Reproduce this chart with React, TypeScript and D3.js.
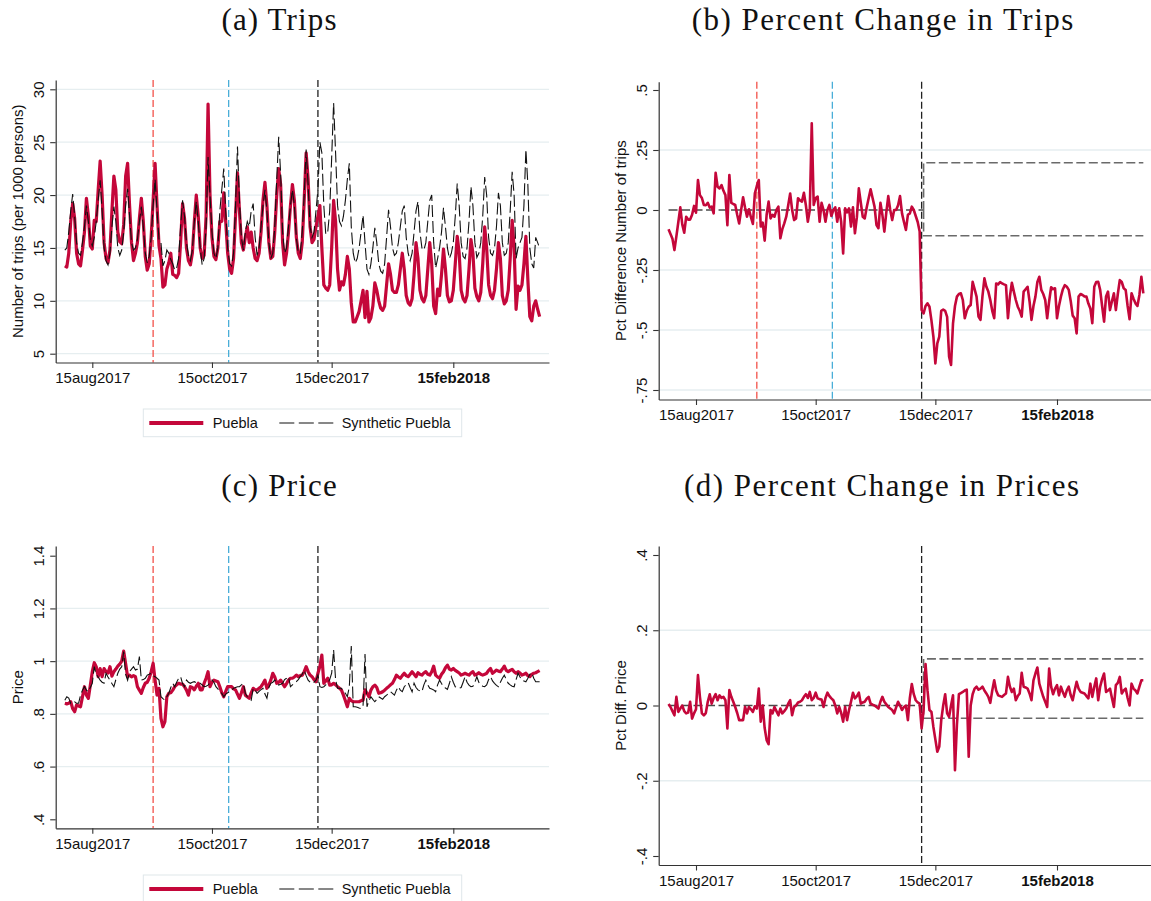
import React, { useEffect, useRef } from "react";
import * as d3 from "d3";

// daily series, 01aug2017 .. 31mar2018
const tripsPuebla = [
  13.3, 13.2, 14.5, 17.5, 19.2, 17.8, 14.5, 13.5, 13.3, 14.8,
  16.5, 19.7, 18.0, 15.2, 14.9, 17.6, 17.5, 20.5, 23.2, 20.0,
  15.5, 14.0, 13.6, 14.8, 18.5, 21.8, 20.5, 16.5, 15.6, 15.4,
  17.2, 21.8, 23.0, 19.0, 15.5, 13.8, 14.5, 15.5, 17.8, 19.7,
  17.5, 14.2, 12.9, 13.5, 16.0, 19.5, 23.0, 19.0, 15.2, 14.0,
  11.3, 11.5, 13.0, 13.6, 14.5, 12.5, 12.4, 12.2, 12.6, 15.5,
  19.2, 17.8, 15.0, 13.8, 13.4, 14.5, 17.5, 20.0, 18.0, 15.0,
  14.0, 14.3, 18.0, 28.6, 20.0, 16.0, 14.2, 13.9, 15.0, 17.5,
  17.5, 20.2, 17.5, 14.5, 13.0, 12.6, 14.0, 18.0, 22.1, 18.5,
  15.5, 14.8, 16.0, 17.0, 15.5, 16.5, 15.0, 14.0, 13.8, 14.5,
  16.5, 19.5, 21.2, 19.0, 15.5, 14.0, 14.2, 16.5, 20.0, 22.5,
  21.0, 15.5, 13.4, 14.5, 16.5, 19.0, 21.0, 19.5, 16.0, 14.5,
  14.0, 15.5, 19.5, 24.0, 21.5, 17.0, 15.5, 15.8, 17.0, 18.0,
  19.0, 15.0, 11.5, 11.2, 11.0, 11.5, 15.0, 19.5, 17.5, 13.0,
  11.0, 11.8, 11.5, 12.5, 14.2, 13.0, 9.8, 8.0, 8.0, 8.5,
  9.0, 10.0, 11.0, 8.4, 10.9, 8.0, 8.4, 9.5, 11.7, 11.0,
  10.0, 9.3, 9.1, 9.5, 11.5, 13.5, 12.5, 11.0, 10.8, 10.8,
  11.5, 13.0, 14.5, 13.0, 10.5, 9.8, 9.6, 10.2, 12.5, 15.5,
  14.0, 11.0, 10.2, 9.9, 10.5, 13.0, 15.5, 13.5, 9.5, 8.8,
  11.1, 10.5, 12.5, 14.9, 13.0, 10.5, 9.9, 10.0, 11.0, 13.5,
  16.1, 14.5, 11.0, 10.2, 9.9, 10.5, 13.0, 15.8, 14.5, 11.2,
  10.4, 10.0, 10.8, 13.5, 17.0, 15.0, 11.5, 10.5, 10.2, 11.0,
  13.0, 15.5, 14.0, 10.5, 9.7, 10.0, 11.0, 14.0, 17.6, 15.0,
  9.2, 11.4, 11.0, 11.5, 13.5, 16.1, 12.0, 8.5, 8.1, 9.5,
  10.0, 9.2, 8.5,
];

const tripsSynthetic = [
  14.8, 15.0, 16.5, 18.5, 20.1, 18.0, 15.5, 14.5, 14.3, 15.5,
  17.0, 19.0, 17.5, 15.8, 15.2, 16.0, 17.5, 19.5, 21.4, 18.5,
  15.0, 13.8, 13.4, 14.5, 17.0, 18.9, 17.5, 15.0, 14.3, 14.8,
  16.5, 19.0, 20.6, 18.0, 15.5, 14.8, 15.0, 15.8, 17.5, 18.9,
  17.0, 14.5, 13.6, 14.2, 16.0, 19.0, 21.5, 18.5, 15.8, 15.5,
  13.3, 13.8, 14.8, 14.5, 13.9, 13.5, 12.9, 13.1, 14.0, 17.0,
  19.5, 18.0, 15.5, 14.3, 13.8, 14.8, 17.5, 19.4, 17.5, 15.0,
  13.4, 14.0, 17.0, 23.6, 20.0, 16.5, 14.5, 14.0, 15.0, 18.5,
  20.5, 22.5, 18.5, 15.0, 13.5, 13.3, 14.5, 19.0, 24.6, 19.5,
  16.0, 14.8, 16.5, 17.5, 17.0, 18.5, 19.2, 16.0, 14.3, 15.0,
  17.0, 19.0, 20.5, 18.5, 15.5, 14.0, 14.5, 17.0, 21.5, 25.5,
  22.0, 16.5, 14.5, 15.0, 17.0, 19.0, 20.5, 19.0, 16.0, 14.5,
  14.5, 16.5, 20.0, 24.3, 21.0, 17.0, 16.0, 16.5, 18.5, 20.5,
  25.0, 24.0, 19.0, 16.3, 16.5, 18.5, 23.5, 28.7, 24.0, 19.0,
  17.5, 17.1, 18.0, 19.5, 21.5, 23.0, 17.0, 14.5, 13.6, 14.0,
  15.0, 16.5, 18.1, 15.5, 13.0, 12.5, 13.5, 15.0, 16.9, 15.5,
  13.5, 12.8, 12.6, 13.5, 16.0, 18.6, 17.0, 15.0, 14.3, 14.5,
  15.5, 17.0, 18.5, 19.0, 16.0, 14.5, 13.8, 14.5, 16.5, 18.5,
  19.4, 16.5, 15.0, 14.8, 15.5, 17.5, 19.5, 20.0, 15.5, 13.1,
  14.0, 15.0, 16.5, 18.8, 17.0, 15.0, 14.0, 14.5, 15.5, 18.0,
  21.1, 19.0, 15.5, 14.2, 14.0, 15.0, 17.5, 20.8, 19.0, 15.5,
  14.1, 14.5, 15.5, 18.0, 21.7, 20.0, 16.0, 14.5, 14.3, 15.0,
  17.0, 20.2, 19.0, 15.5, 14.3, 14.5, 15.5, 18.5, 22.2, 20.0,
  14.0, 15.0, 15.5, 16.0, 19.0, 24.3, 21.0, 15.0, 13.5, 13.1,
  16.0, 15.5, 15.0,
];

const tripsPctDiff = [
  -0.08, -0.1, -0.12, -0.167, -0.11, -0.05, 0.011, -0.06, -0.095, -0.028,
  -0.04, -0.04, -0.02, 0.017, -0.011, 0.125, 0.062, 0.05, 0.021, 0.02,
  0.03, 0.01, 0.014, -0.014, 0.155, 0.097, 0.09, 0.104, 0.08, 0.062,
  -0.063, 0.146, 0.03, 0.025, 0.021, -0.02, -0.056, 0.0, 0.053, 0.01,
  -0.028, 0.003, -0.03, -0.058, 0.069, 0.1, 0.125, -0.069, -0.053, -0.128,
  -0.02, 0.035, -0.035, -0.02, -0.028, 0.0, 0.014, -0.118, -0.08, -0.056,
  -0.028, 0.02, 0.069, 0.0, -0.042, -0.035, 0.049, 0.04, 0.035, 0.072,
  0.02, -0.049, 0.0, 0.361, 0.021, 0.05, 0.056, -0.049, 0.03, 0.0,
  -0.049, 0.0, 0.021, -0.025, 0.0, 0.011, -0.049, 0.007, -0.05, -0.181,
  0.007, -0.01, 0.007, -0.069, 0.011, -0.097, -0.03, 0.09, 0.03, -0.028,
  -0.035, 0.01, 0.049, 0.086, 0.05, 0.014, -0.063, -0.076, 0.03, -0.02,
  -0.09, -0.01, 0.058, 0.0, -0.042, 0.0, 0.0, 0.02, 0.058, -0.014,
  -0.05, -0.083, -0.02, -0.014, 0.014, 0.0, -0.025, -0.05, -0.09, -0.417,
  -0.431, -0.4, -0.389, -0.403, -0.46, -0.528, -0.639, -0.556, -0.528, -0.42,
  -0.415, -0.42, -0.445, -0.611, -0.646, -0.472, -0.4, -0.361, -0.35, -0.347,
  -0.375, -0.451, -0.42, -0.403, -0.396, -0.299, -0.33, -0.361, -0.444, -0.458,
  -0.36, -0.285, -0.32, -0.34, -0.375, -0.42, -0.451, -0.306, -0.31, -0.3,
  -0.306, -0.31, -0.313, -0.451, -0.36, -0.303, -0.34, -0.375, -0.403, -0.42,
  -0.444, -0.34, -0.33, -0.32, -0.38, -0.458, -0.4, -0.361, -0.3, -0.278,
  -0.333, -0.35, -0.375, -0.451, -0.38, -0.322, -0.33, -0.326, -0.451, -0.4,
  -0.361, -0.33, -0.313, -0.32, -0.333, -0.38, -0.44, -0.451, -0.514, -0.361,
  -0.35, -0.354, -0.36, -0.361, -0.39, -0.41, -0.472, -0.32, -0.3, -0.299,
  -0.333, -0.4, -0.465, -0.36, -0.34, -0.417, -0.38, -0.347, -0.417, -0.35,
  -0.292, -0.3, -0.326, -0.333, -0.4, -0.455, -0.347, -0.37, -0.389, -0.4,
  -0.354, -0.278, -0.347,
];

const pricePuebla = [
  0.84, 0.838, 0.84, 0.846, 0.82, 0.808, 0.834, 0.83, 0.827, 0.865,
  0.903, 0.871, 0.859, 0.909, 0.96, 0.994, 0.979, 0.941, 0.972, 0.941,
  0.972, 0.96, 0.955, 0.979, 0.943, 0.96, 0.97, 0.981, 0.989, 1.0,
  1.038, 0.99, 0.941, 0.947, 0.94, 0.945, 0.941, 0.903, 0.89, 0.878,
  0.9, 0.916, 0.92, 0.935, 0.96, 0.992, 0.928, 0.871, 0.897, 0.783,
  0.751, 0.77, 0.865, 0.878, 0.88, 0.89, 0.903, 0.91, 0.916, 0.913,
  0.913, 0.903, 0.89, 0.871, 0.903, 0.9, 0.891, 0.905, 0.916, 0.891,
  0.891, 0.916, 0.935, 0.96, 0.903, 0.92, 0.928, 0.925, 0.922, 0.903,
  0.88, 0.865, 0.885, 0.903, 0.903, 0.903, 0.895, 0.891, 0.875, 0.859,
  0.88, 0.903, 0.871, 0.865, 0.859, 0.88, 0.897, 0.891, 0.891, 0.897,
  0.903, 0.915, 0.928, 0.897, 0.91, 0.928, 0.954, 0.94, 0.916, 0.92,
  0.928, 0.915, 0.903, 0.915, 0.928, 0.935, 0.935, 0.94, 0.947, 0.941,
  0.945, 0.947, 0.96, 0.979, 0.96, 0.947, 0.941, 0.93, 0.922, 0.954,
  0.98, 1.023, 0.916, 0.925, 0.935, 0.909, 0.91, 0.916, 0.91, 0.903,
  0.897, 0.89, 0.871, 0.85, 0.827, 0.859, 0.85, 0.846, 0.846, 0.846,
  0.846, 0.85, 0.852, 0.891, 0.878, 0.865, 0.89, 0.903, 0.909, 0.9,
  0.878, 0.88, 0.884, 0.89, 0.897, 0.903, 0.91, 0.916, 0.93, 0.947,
  0.94, 0.935, 0.945, 0.954, 0.945, 0.941, 0.95, 0.96, 0.95, 0.941,
  0.956, 0.95, 0.947, 0.955, 0.96, 0.95, 0.947, 0.96, 0.981, 0.947,
  0.94, 0.935, 0.95, 0.96, 0.975, 0.985, 0.97, 0.966, 0.972, 0.965,
  0.96, 0.955, 0.947, 0.95, 0.954, 0.95, 0.947, 0.955, 0.96, 0.947,
  0.95, 0.956, 0.95, 0.947, 0.95, 0.954, 0.965, 0.972, 0.954, 0.96,
  0.966, 0.962, 0.96, 0.97, 0.981, 0.965, 0.96, 0.965, 0.969, 0.96,
  0.954, 0.96, 0.955, 0.947, 0.95, 0.954, 0.945, 0.941, 0.95, 0.954,
  0.956, 0.96, 0.964,
];

const priceSynthetic = [
  0.852, 0.865, 0.86, 0.84, 0.845, 0.846, 0.84, 0.84, 0.871, 0.89,
  0.903, 0.89, 0.884, 0.9, 0.916, 0.979, 0.95, 0.94, 0.928, 0.92,
  0.916, 0.954, 0.94, 0.928, 0.915, 0.903, 0.93, 0.954, 0.97, 0.979,
  1.036, 0.95, 0.928, 0.96, 0.97, 0.979, 0.966, 0.97, 1.017, 0.928,
  0.93, 0.935, 0.947, 0.95, 0.954, 0.945, 0.941, 0.935, 0.928, 0.865,
  0.858, 0.852, 0.865, 0.878, 0.9, 0.916, 0.903, 0.92, 0.935, 0.941,
  0.915, 0.903, 0.928, 0.92, 0.916, 0.92, 0.922, 0.918, 0.916, 0.916,
  0.91, 0.903, 0.905, 0.909, 0.918, 0.928, 0.92, 0.903, 0.895, 0.885,
  0.878, 0.865, 0.875, 0.88, 0.884, 0.89, 0.897, 0.9, 0.903, 0.903,
  0.91, 0.916, 0.878, 0.865, 0.86, 0.852, 0.897, 0.89, 0.878, 0.885,
  0.892, 0.897, 0.875, 0.859, 0.9, 0.916, 0.92, 0.928, 0.92, 0.909,
  0.912, 0.916, 0.93, 0.935, 0.941, 0.903, 0.91, 0.915, 0.922, 0.93,
  0.941, 0.95, 0.966, 0.945, 0.928, 0.92, 0.916, 0.92, 0.928, 0.947,
  0.903, 0.9, 0.903, 0.91, 0.916, 0.93, 0.954, 1.042, 0.93, 0.897,
  0.897, 0.897, 0.885, 0.878, 0.865, 0.903, 1.057, 0.827, 0.827, 0.825,
  0.822, 0.82, 0.83, 1.027, 0.827, 0.85, 0.865, 0.855, 0.846, 0.855,
  0.865, 0.86, 0.855, 0.865, 0.871, 0.878, 0.884, 0.878, 0.871, 0.89,
  0.903, 0.89, 0.884, 0.903, 0.91, 0.918, 0.9, 0.884, 0.916, 0.9,
  0.891, 0.887, 0.884, 0.91, 0.928, 0.91, 0.897, 0.894, 0.891, 0.884,
  0.91, 0.928, 0.915, 0.903, 0.898, 0.893, 0.915, 0.941, 0.92, 0.903,
  0.9, 0.897, 0.9, 0.92, 0.941, 0.92, 0.909, 0.903, 0.905, 0.92,
  0.941, 0.92, 0.909, 0.905, 0.903, 0.91, 0.93, 0.941, 0.925, 0.916,
  0.908, 0.903, 0.92, 0.935, 0.947, 0.93, 0.916, 0.91, 0.905, 0.903,
  0.93, 0.954, 0.94, 0.928, 0.925, 0.922, 0.935, 0.95, 0.956, 0.935,
  0.922, 0.922, 0.922,
];

const pricePctDiff = [
  0.004, -0.004, -0.015, -0.026, 0.023, -0.017, -0.008, 0.0, -0.015, -0.021,
  -0.019, 0.01, -0.035, -0.021, -0.01, 0.081, 0.023, -0.021, -0.026, -0.02,
  0.01, 0.03, 0.005, 0.02, 0.03, 0.014, 0.027, 0.02, 0.023, 0.014,
  -0.061, 0.041, 0.023, 0.01, -0.004, -0.02, -0.039, -0.039, -0.039, -0.004,
  -0.021, -0.004, -0.01, -0.017, -0.002, -0.008, 0.045, -0.043, 0.0, -0.06,
  -0.092, -0.103, -0.012, -0.021, -0.004, -0.015, -0.026, -0.008, -0.021, -0.015,
  -0.008, 0.005, 0.014, -0.026, -0.004, 0.0, 0.008, 0.01, 0.014, 0.023,
  0.03, 0.02, 0.036, 0.014, 0.02, 0.034, 0.019, 0.017, 0.016, -0.004,
  0.02, 0.034, 0.025, 0.019, 0.014, 0.0, -0.021, -0.004, -0.02, -0.043,
  -0.004, -0.039, -0.012, 0.01, 0.034, 0.019, 0.025, 0.034, 0.005, 0.008,
  0.01, 0.018, 0.023, 0.005, 0.002, 0.0, -0.004, -0.008, 0.01, 0.023,
  0.01, 0.003, -0.004, -0.008, -0.012, -0.021, -0.005, 0.01, 0.0, -0.012,
  -0.004, 0.0, -0.039, 0.02, 0.057, 0.03, 0.014, 0.008, 0.005, -0.061,
  -0.012, 0.11, 0.04, -0.012, -0.017, -0.057, -0.09, -0.123, -0.109, -0.039,
  0.0, 0.03, -0.021, -0.03, 0.0, 0.027, -0.172, -0.05, 0.03, 0.033,
  0.036, 0.04, 0.042, -0.136, 0.0, 0.03, 0.045, 0.05, 0.042, 0.045,
  0.05, 0.04, 0.032, 0.023, 0.007, 0.04, 0.067, 0.04, 0.027, 0.025,
  0.023, 0.028, 0.032, 0.076, 0.05, 0.036, 0.045, 0.014, 0.025, 0.032,
  0.087, 0.05, 0.048, 0.045, 0.032, 0.014, 0.067, 0.085, 0.101, 0.058,
  0.04, 0.023, 0.01, -0.004, 0.098, 0.05, 0.03, 0.045, 0.054, 0.027,
  0.05, 0.035, 0.023, 0.04, 0.05, 0.027, 0.014, 0.04, 0.063, 0.045,
  0.036, 0.034, 0.032, 0.025, 0.019, 0.058, 0.023, 0.05, 0.072, 0.014,
  0.05, 0.07, 0.085, 0.036, 0.04, 0.045, 0.02, -0.004, 0.054, 0.06,
  0.076, 0.032, 0.04, 0.045, 0.02, 0.0, 0.058, 0.045, 0.04, 0.032,
  0.05, 0.067, 0.067,
];

// upper / lower reference levels after the treatment date
const tripsBand = [0.197, -0.107];
const priceBand = [0.124, -0.034];

const xTickLabels = ["15aug2017", "15oct2017", "15dec2017", "15feb2018"];
const xTickDates = [
  new Date(Date.UTC(2017, 7, 15)),
  new Date(Date.UTC(2017, 9, 15)),
  new Date(Date.UTC(2017, 11, 15)),
  new Date(Date.UTC(2018, 1, 15)),
];

const START = Date.UTC(2017, 7, 1);
const DAY = 864e5;
const dayOf = (i: number) => new Date(START + i * DAY);
const bandStart = new Date(Date.UTC(2017, 11, 9));

const RED = "#c4073a";
const events = [
  { date: new Date(Date.UTC(2017, 8, 15)), color: "#f2524a" },
  { date: new Date(Date.UTC(2017, 9, 23, 12)), color: "#4aaed8" },
  { date: new Date(Date.UTC(2017, 11, 8)), color: "#222" },
];

const SANS = "'Liberation Sans', Arial, Helvetica, sans-serif";
const SERIF = "'Liberation Serif', 'Times New Roman', serif";

const panels = [
  {
    title: "(a) Trips", titleX: 279, titleY: 30, titleLs: 1.15,
    ytitle: "Number of trips (per 1000 persons)",
    left: 55.7, right: 549, top: 80, bottom: 362.5, xr: [92.3, 453.3],
    yd: [5, 30], yr: [353.7, 89.3],
    yTicks: [5, 10, 15, 20, 25, 30], yLabels: ["5", "10", "15", "20", "25", "30"],
    grid: [5, 10, 15, 20, 25, 30],
    events: [0, 1, 2], band: null as number[] | null, width: 3.2,
    series: [tripsPuebla], synth: tripsSynthetic as number[] | null,
  },
  {
    title: "(b) Percent Change in Trips", titleX: 882.5, titleY: 30, titleLs: 1.5,
    ytitle: "Pct Difference Number of trips",
    left: 658.7, right: 1151, top: 81.7, bottom: 399.5, xr: [696, 1057],
    yd: [-0.75, 0.5], yr: [390, 90],
    yTicks: [-0.75, -0.5, -0.25, 0, 0.25, 0.5], yLabels: ["-.75", "-.5", "-.25", "0", ".25", ".5"],
    grid: [-0.75, -0.5, -0.25, 0.25],
    events: [0, 1, 2], band: tripsBand, width: 2.6,
    series: [tripsPctDiff], synth: null,
  },
  {
    title: "(c) Price", titleX: 279, titleY: 496, titleLs: 1.23,
    ytitle: "Price",
    left: 55.7, right: 549, top: 546, bottom: 828.3, xr: [92.3, 453.3],
    yd: [0.4, 1.4], yr: [819.3, 555.7],
    yTicks: [0.4, 0.6, 0.8, 1, 1.2, 1.4], yLabels: [".4", ".6", ".8", "1", "1.2", "1.4"],
    grid: [0.6, 0.8, 1, 1.2],
    events: [0, 1, 2], band: null, width: 3.2,
    series: [pricePuebla], synth: priceSynthetic,
  },
  {
    title: "(d) Percent Change in Prices", titleX: 881.5, titleY: 496, titleLs: 1.5,
    ytitle: "Pct Diff. Price",
    left: 658.7, right: 1151, top: 546, bottom: 865, xr: [696, 1057],
    yd: [-0.4, 0.4], yr: [856, 555],
    yTicks: [-0.4, -0.2, 0, 0.2, 0.4], yLabels: ["-.4", "-.2", "0", ".2", ".4"],
    grid: [-0.2, 0.2],
    events: [2], band: priceBand, width: 2.6,
    series: [pricePctDiff], synth: null,
  },
];

type Panel = (typeof panels)[number];

function drawPanel(svg: d3.Selection<SVGSVGElement, unknown, null, undefined>, p: Panel) {
  const base = d3.scaleUtc().domain([xTickDates[0], xTickDates[3]]).range(p.xr);
  const x = base.copy().domain([base.invert(p.left), base.invert(p.right)]).range([p.left, p.right]);
  const y = d3.scaleLinear().domain(p.yd).range(p.yr);
  const g = svg.append("g");

  // gridlines
  g.selectAll(".grid")
    .data(p.grid)
    .enter()
    .append("line")
    .attr("x1", p.left)
    .attr("x2", p.right)
    .attr("y1", (d) => y(d))
    .attr("y2", (d) => y(d))
    .attr("stroke", "#e6eef0")
    .attr("stroke-width", 1.3);

  // zero line + post-treatment levels
  if (p.band) {
    const last = dayOf(p.series[0].length - 1);
    const ln = d3
      .line<[Date, number]>()
      .x((d) => x(d[0]))
      .y((d) => y(d[1]));
    g.append("path")
      .attr("d", ln([[dayOf(0), 0], [bandStart, 0]]))
      .attr("fill", "none").attr("stroke", "#4a4a4a")
      .attr("stroke-width", 1.6).attr("stroke-dasharray", "9,3.5");
    p.band.forEach((v) => {
      g.append("path")
        .attr("d", ln([[bandStart, 0], [bandStart, v], [last, v]]))
        .attr("fill", "none").attr("stroke", "#6a6a6a")
        .attr("stroke-width", 1.6).attr("stroke-dasharray", "9,3.5");
    });
  }

  // event lines
  p.events.forEach((k) => {
    const e = events[k];
    g.append("line")
      .attr("x1", x(e.date)).attr("x2", x(e.date))
      .attr("y1", p.top).attr("y2", p.bottom)
      .attr("stroke", e.color).attr("stroke-width", 1.3)
      .attr("stroke-dasharray", "7,3");
  });

  const line = d3
    .line<number>()
    .x((_, i) => x(dayOf(i)))
    .y((v) => y(v));

  p.series.forEach((s) => {
    g.append("path")
      .attr("d", line(s))
      .attr("fill", "none").attr("stroke", RED)
      .attr("stroke-width", p.width).attr("stroke-linejoin", "round");
  });
  if (p.synth) {
    g.append("path")
      .attr("d", line(p.synth))
      .attr("fill", "none").attr("stroke", "#111")
      .attr("stroke-width", 1.1).attr("stroke-dasharray", "12,4");
  }

  // axes
  const yAxisScale = y.copy().domain([y.invert(p.bottom), y.invert(p.top)]).range([p.bottom, p.top]);
  const ya = g.append("g")
    .attr("transform", `translate(${p.left},0)`)
    .call(
      d3.axisLeft(yAxisScale)
        .tickValues(p.yTicks)
        .tickFormat((_, i) => p.yLabels[i])
        .tickSize(5.5)
        .tickSizeOuter(0)
    );
  ya.selectAll("text")
    .attr("transform", "rotate(-90)")
    .attr("x", 0).attr("y", -11.5).attr("dy", 0)
    .attr("text-anchor", "middle");

  const xa = g.append("g")
    .attr("transform", `translate(0,${p.bottom})`)
    .call(
      d3.axisBottom(x)
        .tickValues(xTickDates)
        .tickFormat((_, i) => xTickLabels[i])
        .tickSize(5.5)
        .tickSizeOuter(0)
    );
  xa.selectAll("text")
    .attr("y", 20.5).attr("dy", 0)
    .attr("font-weight", (_, i) => (i === 3 ? "bold" : "normal"));

  [ya, xa].forEach((a) => {
    a.attr("font-family", SANS).attr("font-size", 15);
    a.selectAll("path").attr("stroke", "#333").attr("stroke-width", 1.2);
    a.selectAll("line").attr("stroke", "#333").attr("stroke-width", 1.1);
    a.selectAll("text").attr("fill", "#111");
  });

  // y title
  g.append("text")
    .attr("transform", `translate(${p.left - 33},${(p.top + p.bottom) / 2}) rotate(-90)`)
    .attr("text-anchor", "middle")
    .attr("font-family", SANS).attr("font-size", 15).attr("fill", "#111")
    .text(p.ytitle);

  // panel title
  g.append("text")
    .attr("x", p.titleX + p.titleLs / 2).attr("y", p.titleY)
    .attr("text-anchor", "middle")
    .attr("font-family", SERIF).attr("font-size", 31).attr("fill", "#111")
    .style("letter-spacing", `${p.titleLs}px`)
    .text(p.title);
}

function drawLegend(svg: d3.Selection<SVGSVGElement, unknown, null, undefined>, top: number) {
  const g = svg.append("g").attr("transform", `translate(143.3,${top})`);
  g.append("rect")
    .attr("width", 318.4).attr("height", 27.7)
    .attr("fill", "#fff").attr("stroke", "#dfe7ea").attr("stroke-width", 1);
  const cy = 14;
  g.append("line").attr("x1", 6).attr("x2", 60).attr("y1", cy).attr("y2", cy)
    .attr("stroke", RED).attr("stroke-width", 4);
  g.append("line").attr("x1", 136).attr("x2", 190).attr("y1", cy).attr("y2", cy)
    .attr("stroke", "#111").attr("stroke-width", 1.2).attr("stroke-dasharray", "15,4.5");
  [["Puebla", 69.4], ["Synthetic Puebla", 198.4]].forEach(([t, tx]) => {
    g.append("text").attr("x", tx).attr("y", cy + 5.3)
      .attr("font-family", SANS).attr("font-size", 14.5).attr("fill", "#111")
      .text(t as string);
  });
}

export default function App() {
  const ref = useRef<SVGSVGElement>(null);

  useEffect(() => {
    if (!ref.current) return;
    const svg = d3.select(ref.current);
    svg.selectAll("*").remove();
    panels.forEach((p) => drawPanel(svg, p));
    drawLegend(svg, 409);
    drawLegend(svg, 875);
  }, []);

  return (
    <div style={{ position: "absolute", left: 0, top: 0 }}>
      <svg ref={ref} width={1151} height={901} style={{ display: "block", background: "#fff" }} />
    </div>
  );
}
